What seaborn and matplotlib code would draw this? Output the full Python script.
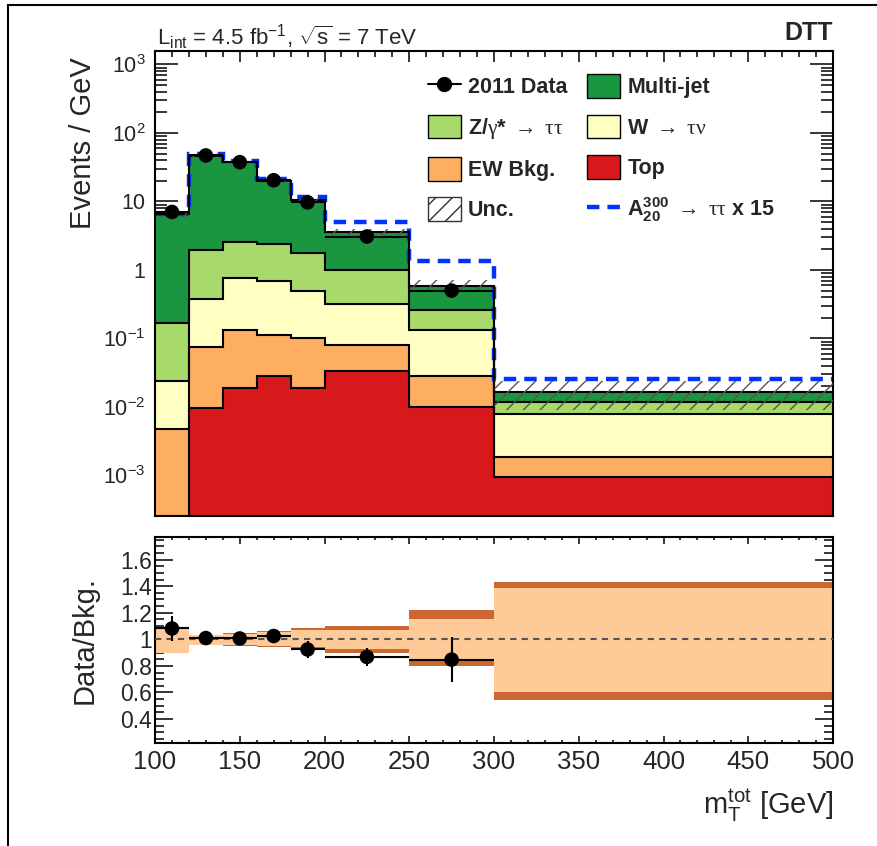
import numpy as np
import matplotlib
matplotlib.use("Agg")
import matplotlib.pyplot as plt
from matplotlib.patches import Patch, Rectangle
from matplotlib.lines import Line2D
from matplotlib.ticker import (LogLocator, NullFormatter, MultipleLocator,
                               FixedLocator, FuncFormatter)
import seaborn as sns

# ---------------- data ----------------
edges = [100, 120, 140, 160, 180, 200, 250, 300, 500]

# background contributions (events / GeV), stacked bottom -> top
top_quark = [0.0, 0.0095, 0.019, 0.028, 0.019, 0.034, 0.010, 0.00096]
ew_bkg = [0.0047, 0.0645, 0.113, 0.086, 0.081, 0.046, 0.018, 0.00092]
w_taunu = [0.0193, 0.306, 0.638, 0.586, 0.400, 0.240, 0.106, 0.0059]
z_tautau = [0.146, 1.58, 1.79, 1.70, 1.25, 0.68, 0.126, 0.0039]
multijet = [6.33, 44.6, 34.7, 17.5, 8.75, 2.55, 0.33, 0.0048]

# A -> tautau signal scaled by 15, drawn on top of the background
signal_x15 = [0.0, 2.0, 1.7, 1.5, 1.2, 1.52, 0.76, 0.0095]

# 2011 data
data_centers = [110, 130, 150, 170, 190, 225, 275]
data_values = [7.03, 47.0, 37.5, 20.4, 9.7, 3.08, 0.50]
data_errors = [0.6, 1.5, 1.3, 0.9, 0.68, 0.24, 0.10]

# relative background uncertainty bands (stat. inner, total outer)
stat_hi = [1.095, 1.032, 1.040, 1.055, 1.070, 1.070, 1.153, 1.390]
stat_lo = [0.900, 0.957, 0.955, 0.950, 0.940, 0.925, 0.845, 0.606]
tot_hi = [1.095, 1.036, 1.047, 1.062, 1.082, 1.100, 1.220, 1.430]
tot_lo = [0.900, 0.955, 0.952, 0.945, 0.935, 0.900, 0.800, 0.540]

y_ticks_main = [1e-3, 1e-2, 1e-1, 1, 10, 1e2, 1e3]
x_ticks = [100, 150, 200, 250, 300, 350, 400, 450, 500]
ratio_ticks = [0.4, 0.6, 0.8, 1.0, 1.2, 1.4, 1.6]

# ---------------- style ----------------
sns.set_theme(style="ticks")
plt.rcParams["font.family"] = ["Liberation Sans", "DejaVu Sans"]
plt.rcParams["mathtext.fontset"] = "custom"
plt.rcParams["mathtext.rm"] = "Liberation Serif"
plt.rcParams["mathtext.it"] = "Liberation Serif:italic"
plt.rcParams["mathtext.bf"] = "Liberation Sans:bold"
plt.rcParams["hatch.linewidth"] = 1.0

c_mj = "#1b9640"
c_z = "#a8d96b"
c_w = "#ffffc2"
c_ew = "#fdae61"
c_top = "#d7191c"
c_sig = "#0033ff"
c_band_in = "#fdca98"
c_band_out = "#cc6633"

fig = plt.figure(figsize=(8.77, 8.46), dpi=100)
ax = fig.add_axes([0.17674, 0.39007, 0.77309, 0.54965])
ax2 = fig.add_axes([0.17674, 0.12175, 0.77309, 0.24350])

edges_a = np.array(edges, dtype=float)
layers = [(top_quark, c_top), (ew_bkg, c_ew), (w_taunu, c_w),
          (z_tautau, c_z), (multijet, c_mj)]
floor = 1e-6
cum = np.zeros(len(edges) - 1)
for vals, col in layers:
    new = cum + np.array(vals)
    ax.stairs(np.maximum(new, floor), edges_a, baseline=np.maximum(cum, floor),
              fill=True, facecolor=col, edgecolor="none", lw=0, zorder=1)
    cum = new
bkg = cum.copy()

# stack outlines
cum = np.zeros(len(edges) - 1)
for vals, col in layers:
    cum = cum + np.array(vals)
    ax.stairs(np.maximum(cum, floor), edges_a, baseline=None,
              color="black", lw=1.5, zorder=3)

# signal
ax.stairs(bkg + np.array(signal_x15), edges_a, baseline=None, color=c_sig,
          lw=3.2, linestyle=(0, (2.8, 1.8)), zorder=2)

# uncertainty hatch
ax.stairs(bkg * np.array(tot_hi), edges_a, baseline=bkg * np.array(tot_lo),
          fill=True, facecolor="none", edgecolor="#555555", hatch="//", lw=0,
          zorder=4)

# data points
nd = len(data_values)
half_w = np.diff(edges_a)[:nd] / 2
ax.errorbar(data_centers, data_values, xerr=half_w, yerr=data_errors,
            fmt="none", ecolor="black", elinewidth=1.5, capsize=0, zorder=5)
sns.scatterplot(x=data_centers, y=data_values, ax=ax, color="black", s=110,
                edgecolor="none", zorder=6, legend=False)

ax.set_yscale("log")
ax.set_xlim(100, 500)
ax.set_ylim(2.56e-4, 1574)

# ---------------- ratio panel ----------------
ax2.stairs(np.array(tot_hi), edges_a, baseline=np.array(tot_lo), fill=True,
           facecolor=c_band_out, edgecolor="none", lw=0, zorder=1)
ax2.stairs(np.array(stat_hi), edges_a, baseline=np.array(stat_lo), fill=True,
           facecolor=c_band_in, edgecolor="none", lw=0, zorder=2)
ax2.axhline(1.0, color="#555555", lw=1.5, ls=(0, (3, 2.5)), zorder=3)
ratio = np.array(data_values) / bkg[:nd]
ratio_err = np.array(data_errors) / bkg[:nd]
ax2.errorbar(data_centers, ratio, xerr=half_w, yerr=ratio_err, fmt="none",
             ecolor="black", elinewidth=1.5, capsize=0, zorder=4)
sns.scatterplot(x=data_centers, y=ratio, ax=ax2, color="black", s=110,
                edgecolor="none", zorder=5, legend=False)
ax2.set_xlim(100, 500)
ax2.set_ylim(0.22, 1.77)

# ---------------- axes styling ----------------
for a in (ax, ax2):
    for s in a.spines.values():
        s.set_linewidth(1.5)
        s.set_color("black")
        s.set_visible(True)
    a.tick_params(which="both", direction="in", top=True, right=True,
                  width=1.1, color="black")
    a.xaxis.set_major_locator(FixedLocator(x_ticks))
    a.xaxis.set_minor_locator(MultipleLocator(10))
    a.grid(False)


def log_label(v, pos):
    if np.isclose(v, 1):
        return "1"
    if np.isclose(v, 10):
        return "10"
    return r"$\mathregular{10^{%d}}$" % int(round(np.log10(v)))


ax.yaxis.set_major_locator(FixedLocator(y_ticks_main))
ax.yaxis.set_major_formatter(FuncFormatter(log_label))
ax.yaxis.set_minor_locator(LogLocator(base=10, subs=np.arange(2, 10), numticks=20))
ax.yaxis.set_minor_formatter(NullFormatter())
ax.tick_params(axis="y", which="major", length=16.5, labelsize=15.5, pad=7)
ax.tick_params(axis="y", which="minor", length=8.5)
ax.tick_params(axis="x", which="major", length=8)
ax.tick_params(axis="x", which="minor", length=4)
ax.tick_params(axis="x", labelbottom=False)

ax2.yaxis.set_major_locator(FixedLocator(ratio_ticks))
ax2.yaxis.set_major_formatter(FuncFormatter(lambda v, p: "%g" % v))
ax2.yaxis.set_minor_locator(MultipleLocator(0.05))
ax2.tick_params(axis="y", which="major", length=13, labelsize=16.5, pad=2)
ax2.tick_params(axis="y", which="minor", length=6.5)
ax2.tick_params(axis="x", which="major", length=5, labelsize=18.5, pad=5)
ax2.tick_params(axis="x", which="minor", length=2.5)

ax.set_ylabel("Events / GeV", fontsize=21, loc="top")
ax.yaxis.set_label_coords(-0.085, 0.987)
ax2.set_ylabel("Data/Bkg.", fontsize=21)
ax2.yaxis.set_label_coords(-0.083, 0.5)
ax2.set_xlabel(r"$\mathregular{m_{T}^{tot}}$ [GeV]", fontsize=21, loc="right")
ax2.xaxis.set_label_coords(1.0, -0.215)

# ---------------- legend ----------------
handles = [
    Line2D([], [], color="black", marker="o", markersize=10, lw=1.5),
    Patch(facecolor=c_z, edgecolor="black", lw=1),
    Patch(facecolor=c_ew, edgecolor="black", lw=1),
    Patch(facecolor="white", edgecolor="#333333", hatch="//", lw=1),
    Patch(facecolor=c_mj, edgecolor="black", lw=1),
    Patch(facecolor=c_w, edgecolor="black", lw=1),
    Patch(facecolor=c_top, edgecolor="black", lw=1),
    Line2D([], [], color=c_sig, lw=3.2, linestyle=(0, (2.8, 1.8))),
]
labels = [
    "2011 Data",
    r"Z/$\mathrm{\gamma}$* $\mathrm{\rightarrow}$ $\mathrm{\tau\tau}$",
    "EW Bkg.",
    "Unc.",
    "Multi-jet",
    r"W $\mathrm{\rightarrow}$ $\mathrm{\tau\nu}$",
    "Top",
    r"$\mathbf{A^{300}_{20}}$ $\mathrm{\rightarrow}$ $\mathrm{\tau\tau}$ x 15",
]
ax.legend(handles, labels, ncol=2, frameon=False, loc="upper left",
          bbox_to_anchor=(427.7 / 877, 1 - 74.5 / 846),
          bbox_transform=fig.transFigure, borderpad=0, borderaxespad=0,
          prop={"family": "Liberation Sans", "weight": "bold", "size": 15.5},
          handlelength=1.53, handleheight=1.3, handletextpad=0.33,
          labelspacing=0.76, columnspacing=0.93)

# ---------------- annotations ----------------
fig.text(157 / 877, 1 - 45 / 846,
         r"$\mathregular{L_{int}}$ = 4.5 fb$\mathregular{^{-1}}$, "
         r"$\mathregular{\sqrt{s}}$ = 7 TeV",
         fontsize=16, ha="left", va="baseline")
fig.text(833 / 877, 1 - 33 / 846, "DTT", fontsize=18, weight="bold",
         ha="right", va="center")

fig.add_artist(Rectangle((8 / 877, -0.1), 1.2, 1 - 5 / 846 + 0.1,
                         transform=fig.transFigure, fill=False, lw=1.5,
                         edgecolor="black", clip_on=False))

fig.savefig("out.png", dpi=100)
